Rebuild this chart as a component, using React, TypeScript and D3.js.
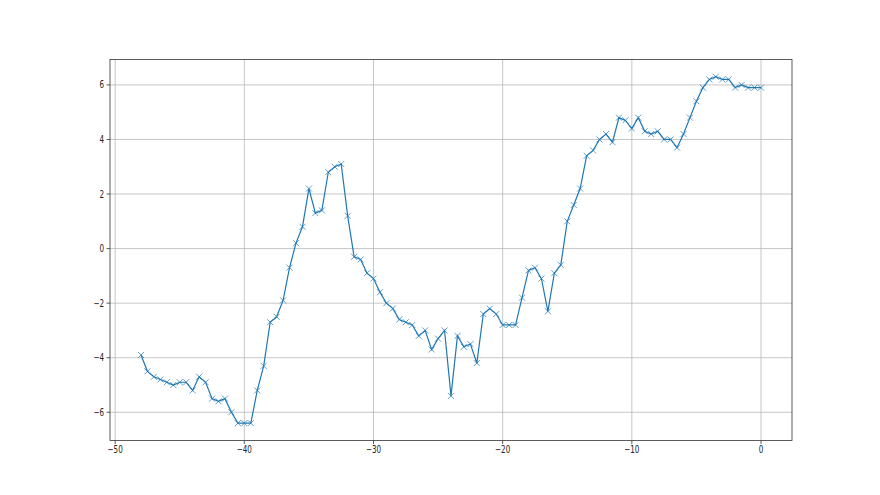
import React from "react";
import * as d3 from "d3";

// x positions (step of 0.5) and the measured values
const xValues = [
  -48, -47.5, -47, -46.5, -46, -45.5, -45, -44.5, -44, -43.5, -43, -42.5, -42, -41.5, -41, -40.5,
  -40, -39.5, -39, -38.5, -38, -37.5, -37, -36.5, -36, -35.5, -35, -34.5, -34, -33.5, -33, -32.5,
  -32, -31.5, -31, -30.5, -30, -29.5, -29, -28.5, -28, -27.5, -27, -26.5, -26, -25.5, -25, -24.5,
  -24, -23.5, -23, -22.5, -22, -21.5, -21, -20.5, -20, -19.5, -19, -18.5, -18, -17.5, -17, -16.5,
  -16, -15.5, -15, -14.5, -14, -13.5, -13, -12.5, -12, -11.5, -11, -10.5, -10, -9.5, -9, -8.5,
  -8, -7.5, -7, -6.5, -6, -5.5, -5, -4.5, -4, -3.5, -3, -2.5, -2, -1.5, -1, -0.5, 0,
];

const yValues = [
  -3.9, -4.5, -4.7, -4.8, -4.9, -5.0, -4.9, -4.9, -5.2, -4.7, -4.9, -5.5, -5.6, -5.5, -6.0, -6.4,
  -6.4, -6.4, -5.2, -4.3, -2.7, -2.5, -1.9, -0.7, 0.2, 0.8, 2.2, 1.3, 1.4, 2.8, 3.0, 3.1,
  1.2, -0.3, -0.4, -0.9, -1.1, -1.6, -2.0, -2.2, -2.6, -2.7, -2.8, -3.2, -3.0, -3.7, -3.3, -3.0,
  -5.4, -3.2, -3.6, -3.5, -4.2, -2.4, -2.2, -2.4, -2.8, -2.8, -2.8, -1.8, -0.8, -0.7, -1.1, -2.3,
  -0.9, -0.6, 1.0, 1.6, 2.2, 3.4, 3.6, 4.0, 4.2, 3.9, 4.8, 4.7, 4.4, 4.8, 4.3, 4.2,
  4.3, 4.0, 4.0, 3.7, 4.2, 4.8, 5.4, 5.9, 6.2, 6.3, 6.2, 6.2, 5.9, 6.0, 5.9, 5.9, 5.9,
];

const xTicks = [-50, -40, -30, -20, -10, 0];
const yTicks = [-6, -4, -2, 0, 2, 4, 6];

const W = 880;
const H = 495;
const margin = { left: 110, right: 88, top: 59.4, bottom: 54.5 };

const fmt = (v: number) => (v < 0 ? "\u2212" + Math.abs(v) : String(v));

export default function App() {
  const points = xValues.map((x, i) => ({ x, y: yValues[i] }));

  const xMin = d3.min(xValues)!;
  const xMax = d3.max(xValues)!;
  const yMin = d3.min(yValues)!;
  const yMax = d3.max(yValues)!;
  const xPad = (xMax - xMin) * 0.05;
  const yPad = (yMax - yMin) * 0.05;

  const x = d3
    .scaleLinear()
    .domain([xMin - xPad, xMax + xPad])
    .range([margin.left, W - margin.right]);
  const y = d3
    .scaleLinear()
    .domain([yMin - yPad, yMax + yPad])
    .range([H - margin.bottom, margin.top]);

  const line = d3
    .line<{ x: number; y: number }>()
    .x((d) => x(d.x))
    .y((d) => y(d.y));

  const x0 = margin.left;
  const x1 = W - margin.right;
  const y0 = H - margin.bottom;
  const y1 = margin.top;
  const m = 3; // half size of the x marker

  return (
    <div style={{ position: "fixed", left: 0, top: 0 }}>
      <svg width={W} height={H} style={{ display: "block", background: "#fff" }}>
        {/* grid */}
        <g stroke="#b8b8b8" strokeWidth={0.8}>
          {xTicks.map((t) => (
            <line key={"gx" + t} x1={x(t)} x2={x(t)} y1={y1} y2={y0} />
          ))}
          {yTicks.map((t) => (
            <line key={"gy" + t} x1={x0} x2={x1} y1={y(t)} y2={y(t)} />
          ))}
        </g>

        {/* data */}
        <path d={line(points)!} fill="none" stroke="#1f77b4" strokeWidth={1.2} />
        <g stroke="#1f77b4" strokeWidth={0.9} strokeOpacity={0.8}>
          {points.map((p, i) => (
            <path
              key={i}
              d={`M${x(p.x) - m},${y(p.y) - m}L${x(p.x) + m},${y(p.y) + m}M${x(p.x) - m},${y(p.y) + m}L${x(p.x) + m},${y(p.y) - m}`}
            />
          ))}
        </g>

        {/* spines */}
        <rect x={x0} y={y1} width={x1 - x0} height={y0 - y1} fill="none" stroke="#333" strokeWidth={0.8} />

        {/* ticks: labels are narrow in the reference */}
        <g fontFamily="DejaVu Sans" fontSize={10} fill="#222">
          {xTicks.map((t) => (
            <g key={"tx" + t} transform={`translate(${x(t)},${y0})`}>
              <line y2={3.5} stroke="#333" strokeWidth={0.8} />
              <text y={13} textAnchor="middle" transform="scale(0.72,1)">
                {fmt(t)}
              </text>
            </g>
          ))}
          {yTicks.map((t) => (
            <g key={"ty" + t} transform={`translate(${x0},${y(t)})`}>
              <line x2={-3.5} stroke="#333" strokeWidth={0.8} />
              <text x={-6 / 0.72} dy="0.35em" textAnchor="end" transform="scale(0.72,1)">
                {fmt(t)}
              </text>
            </g>
          ))}
        </g>
      </svg>
    </div>
  );
}
